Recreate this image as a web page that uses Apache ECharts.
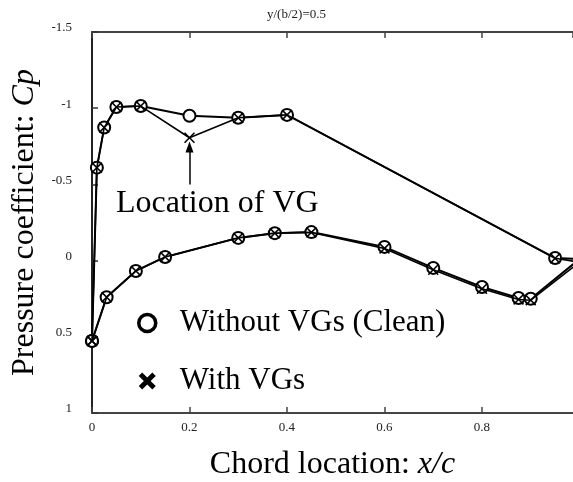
<!DOCTYPE html>
<html>
<head>
<meta charset="utf-8">
<script src="https://cdn.jsdelivr.net/npm/echarts@6/dist/echarts.min.js"></script>
<style>
html,body{margin:0;padding:0;background:#fff;overflow:hidden;}
#chart{width:573px;height:482px;}
</style>
</head>
<body>
<div id="chart"></div>
<script>
// Chordwise stations (x/c), loop: leading edge -> upper surface -> trailing edge -> lower surface -> leading edge
const xClean  = [0, 0.010, 0.025, 0.05, 0.10, 0.20, 0.30, 0.40, 0.95, 1.00, 0.90, 0.875, 0.80, 0.70, 0.60, 0.45, 0.375, 0.30, 0.15, 0.09, 0.03, 0];
const cpClean = [0.527, -0.61, -0.873, -1.008, -1.014, -0.95, -0.937, -0.956, -0.017, -0.01, 0.25, 0.245, 0.173, 0.048, -0.09, -0.187, -0.18, -0.149, -0.024, 0.068, 0.24, 0.527];
const xVG     = [0, 0.010, 0.025, 0.05, 0.10, 0.20, 0.30, 0.40, 0.95, 1.00, 0.90, 0.875, 0.80, 0.70, 0.60, 0.45, 0.375, 0.30, 0.15, 0.09, 0.03, 0];
const cpVG    = [0.527, -0.61, -0.873, -1.008, -1.014, -0.806, -0.937, -0.956, -0.015, 0.01, 0.26, 0.255, 0.185, 0.06, -0.08, -0.185, -0.18, -0.149, -0.024, 0.068, 0.24, 0.527];
const xTicks  = [0, 0.2, 0.4, 0.6, 0.8];
const xVisibleMax = 0.9867;   // the figure is cropped just before x/c = 1
const yTicks  = [-1.5, -1, -0.5, 0, 0.5, 1];
const seriesNames = ['Without VGs (Clean)', 'With VGs'];
const arrowX = [0.2, 0.2];
const arrowCp = [-0.5, -0.745];
const titleText = 'y/(b/2)=0.5';
const noteText = 'Location of VG';

const SERIF = "'Liberation Serif','Times New Roman',serif";
const xThin = 'path://M0,1L1,0L5,4L9,0L10,1L6,5L10,9L9,10L5,6L1,10L0,9L4,5Z';
const xBold = 'path://M0,2L2,0L5,3L8,0L10,2L7,5L10,8L8,10L5,7L2,10L0,8L3,5Z';

function pairs(xs, ys){ return xs.map((x,i)=>[x, ys[i]]); }
function xFmt(v){
  const r = Math.round(v*10)/10;
  return xTicks.some(t => Math.abs(t - v) < 1e-6) ? String(r) : '';
}

const chart = echarts.init(document.getElementById('chart'), null, {renderer:'canvas'});
const axisLineX = {show:true, onZero:false, lineStyle:{color:'#444', width:2}};
const option = {
  animation:false,
  backgroundColor:'#fff',
  title:{text:titleText, left:267, top:8, padding:0,
    textStyle:{fontFamily:SERIF, fontSize:13, fontWeight:'normal', color:'#222'}},
  grid:{left:92, top:32, right:0, bottom:69, containLabel:false, outerBoundsMode:'none'},
  legend:{
    orient:'vertical', left:132, top:300, itemWidth:17, itemHeight:17, itemGap:22,
    textStyle:{fontFamily:SERIF, fontSize:31, color:'#000', padding:[0,0,0,19], lineHeight:36},
    data:[
      {name:seriesNames[0], icon:'circle', itemStyle:{color:'#fff', borderColor:'#000', borderWidth:3.5}},
      {name:seriesNames[1], icon:xBold, itemStyle:{color:'#000', borderWidth:0}}
    ]
  },
  xAxis:[
    {type:'value', min:xTicks[0], max:xVisibleMax, interval:0.2, position:'bottom',
     axisLine:axisLineX, axisTick:{show:true, inside:true, length:6, lineStyle:{color:'#444', width:1.5}},
     splitLine:{show:false},
     axisLabel:{fontFamily:SERIF, fontSize:13, color:'#222', margin:8, showMaxLabel:false, formatter:xFmt},
     name:'{n|Chord location: }{i|x/c}', nameLocation:'middle', nameGap:36,
     nameTextStyle:{rich:{n:{fontFamily:SERIF, fontSize:32, color:'#000'}, i:{fontFamily:SERIF, fontSize:32, fontStyle:'italic', color:'#000'}}}
    },
    {type:'value', min:xTicks[0], max:xVisibleMax, interval:0.2, position:'top',
     axisLine:axisLineX, axisTick:{show:true, inside:true, length:6, lineStyle:{color:'#444', width:1.5}},
     splitLine:{show:false}, axisLabel:{show:false}}
  ],
  yAxis:{type:'value', inverse:true, min:yTicks[0], max:yTicks[yTicks.length-1], interval:0.5,
    axisLine:{show:true, onZero:false, lineStyle:{color:'#222', width:2}},
    axisTick:{show:true, inside:true, length:6, lineStyle:{color:'#333', width:1.5}},
    splitLine:{show:false},
    axisLabel:{fontFamily:SERIF, fontSize:13, color:'#222', margin:20, verticalAlign:'bottom', lineHeight:8},
    name:'{n|Pressure coefficient: }{i|Cp}', nameLocation:'middle', nameGap:46, nameRotate:90,
    nameTextStyle:{rich:{n:{fontFamily:SERIF, fontSize:32, color:'#000'}, i:{fontFamily:SERIF, fontSize:32, fontStyle:'italic', color:'#000'}}}
  },
  graphic:[
    {type:'text', left:116, top:188, style:{text:noteText, font:"32px 'Liberation Serif', serif", fill:'#000'}}
  ],
  series:[
    {name:seriesNames[0], type:'line', data:pairs(xClean, cpClean), xAxisIndex:0,
     symbol:'emptyCircle', symbolSize:12, showAllSymbol:true,
     lineStyle:{color:'#000', width:2}, itemStyle:{color:'#000', borderColor:'#000', borderWidth:2},
     z:2},
    {name:seriesNames[1], type:'line', data:pairs(xVG, cpVG), xAxisIndex:0,
     symbol:xThin, symbolSize:11, symbolKeepAspect:true, showAllSymbol:true,
     lineStyle:{color:'#000', width:1.6}, itemStyle:{color:'#000', borderWidth:0},
     markLine:{silent:true, symbol:['none','triangle'], symbolSize:[8,11], label:{show:false},
       lineStyle:{color:'#000', width:1.5, type:'solid'},
       data:[[{coord:[arrowX[0], arrowCp[0]]},{coord:[arrowX[1], arrowCp[1]]}]]},
     z:3}
  ]
};
chart.setOption(option);
</script>
</body>
</html>
